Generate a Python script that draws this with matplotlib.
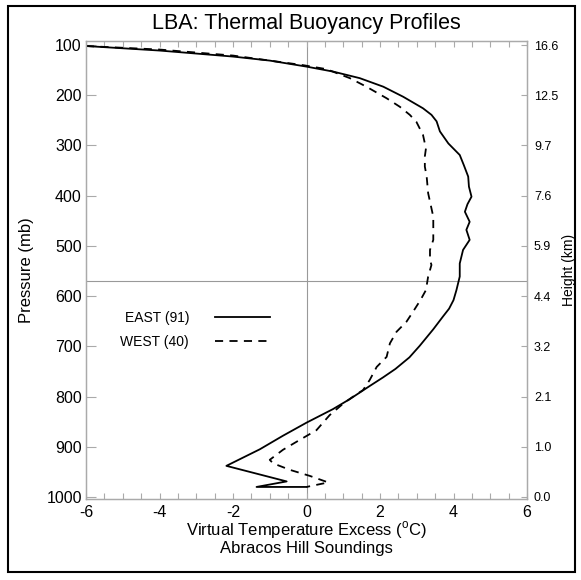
import numpy as np
import matplotlib
matplotlib.use("Agg")
import matplotlib.pyplot as plt
from matplotlib.patches import Rectangle

plt.rcParams['font.family'] = ['Liberation Sans', 'DejaVu Sans']
plt.rcParams['mathtext.fontset'] = 'custom'
plt.rcParams['mathtext.rm'] = 'Liberation Sans'
plt.rcParams['axes.unicode_minus'] = False

# EAST profile (91 soundings): pressure (mb) and virtual temperature excess (C)
east_p = [102, 111, 123, 131, 143, 153, 166, 183, 203, 226, 239, 252, 272, 296,
          319, 339, 362, 382, 402, 417, 432, 452, 468, 488, 508, 535, 561, 588,
          608, 625, 640, 666, 699, 722, 745, 762, 779, 805, 825, 852, 878, 905,
          938, 969, 980, 980]
east_x = [-6.0, -4.0, -2.0, -1.0, 0.0, 0.73, 1.45, 2.09, 2.63, 3.17, 3.40, 3.54,
          3.63, 3.86, 4.17, 4.28, 4.40, 4.42, 4.49, 4.38, 4.31, 4.44, 4.35, 4.44,
          4.26, 4.17, 4.17, 4.08, 4.00, 3.88, 3.72, 3.45, 3.08, 2.80, 2.42, 2.08,
          1.72, 1.18, 0.72, 0.0, -0.64, -1.27, -2.18, -0.54, -1.36, 0.0]

# WEST profile (40 soundings)
west_p = [102, 109, 121, 131, 140, 148, 166, 183, 206, 223, 239, 253, 279, 306,
          322, 342, 362, 395, 442, 488, 508, 528, 538, 561, 588, 608, 631, 651,
          671, 694, 721, 741, 767, 787, 800, 814, 837, 867, 890, 906, 926, 933,
          946, 958, 971, 980]
west_x = [-6.0, -4.0, -2.0, -1.0, -0.1, 0.54, 1.18, 1.63, 2.18, 2.54, 2.81, 2.99,
          3.17, 3.25, 3.22, 3.22, 3.27, 3.31, 3.45, 3.45, 3.36, 3.36, 3.40, 3.31,
          3.25, 3.10, 2.90, 2.72, 2.45, 2.27, 2.18, 1.91, 1.72, 1.54, 1.27, 1.00,
          0.63, 0.27, -0.27, -0.64, -1.0, -0.91, -0.45, 0.09, 0.59, 0.0]

p_ticks = [100, 200, 300, 400, 500, 600, 700, 800, 900, 1000]
height_labels = ['16.6', '12.5', '9.7', '7.6', '5.9', '4.4', '3.2', '2.1', '1.0', '0.0']
freeze_p = 570

fig = plt.figure(figsize=(5.81, 5.80), dpi=100)
ax = fig.add_axes([86/581, 1 - 499/580, 441/581, 458/580])

gray = '#aaaaaa'
ax.axvline(0, color='#999999', lw=0.8, zorder=1)
ax.axhline(freeze_p, color='#999999', lw=0.8, zorder=1)

ax.plot(east_x, east_p, color='black', lw=1.3, label='EAST (91)', zorder=3)
ax.plot(west_x, west_p, color='black', lw=1.3, dashes=(4.5, 3.5), label='WEST (40)', zorder=3)

ax.set_xlim(-6, 6)
ax.set_ylim(1004, 92)
ax.set_xticks(np.arange(-6, 7, 2))
ax.set_xticks(np.arange(-6, 6.01, 0.5), minor=True)
ax.set_yticks(p_ticks)
ax.tick_params(axis='x', which='both', direction='in', top=True, length=4, width=0.8,
               color=gray, labelsize=11.5, pad=4)
ax.tick_params(axis='y', which='both', direction='in', right=False, length=7, width=0.8,
               color=gray, labelsize=11.5, pad=3)
for s in ax.spines.values():
    s.set_color(gray)
    s.set_linewidth(0.9)

ax.set_title('LBA: Thermal Buoyancy Profiles', fontsize=15.5, pad=9)
ax.set_ylabel('Pressure (mb)', fontsize=12, labelpad=9)
ax.set_xlabel('Virtual Temperature Excess ($^{\\mathrm{o}}$C)\nAbracos Hill Soundings',
              fontsize=12, labelpad=0, linespacing=0.95)

ax2 = ax.twinx()
ax2.set_ylim(ax.get_ylim())
ax2.set_yticks(p_ticks)
ax2.set_yticklabels(height_labels)
ax2.tick_params(axis='y', direction='in', length=4, width=0.8, color=gray,
                labelsize=9, pad=5)
for s in ax2.spines.values():
    s.set_color(gray)
    s.set_linewidth(0.9)
ax2.set_ylabel('Height (km)', fontsize=10, labelpad=3)

ax.legend(loc='upper left', bbox_to_anchor=(0.078, 0.41), frameon=False,
          markerfirst=False, fontsize=10, handlelength=3.9, handletextpad=1.9,
          labelspacing=0.7, borderpad=0, borderaxespad=0)

fig.patches.append(Rectangle((8/581, 1 - 572/580), 567/581, 566/580,
                             transform=fig.transFigure, fill=False,
                             edgecolor='black', lw=1.5))

fig.savefig('out.png', dpi=100)
